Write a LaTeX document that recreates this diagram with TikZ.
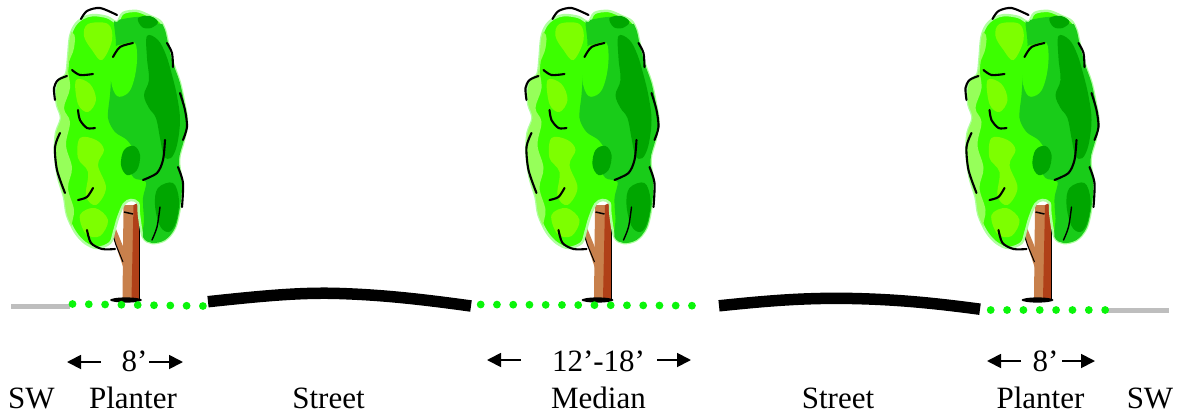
\documentclass[tikz,border=0pt]{standalone}
\usepackage{fontspec}
\setmainfont{Liberation Serif}
\usetikzlibrary{arrows.meta}
\definecolor{bright}{RGB}{60,255,0}
\definecolor{pale}{RGB}{150,255,90}
\definecolor{ygreen}{RGB}{125,255,0}
\definecolor{midg}{RGB}{25,204,25}
\definecolor{darkg}{RGB}{0,166,0}
\definecolor{halo}{RGB}{175,255,160}
\definecolor{dotgreen}{RGB}{10,245,10}
\definecolor{swgray}{RGB}{190,190,190}
\definecolor{trunklight}{RGB}{200,128,76}
\definecolor{trunkdark}{RGB}{176,64,24}
\newcommand{\treeoutline}{plot[smooth cycle, tension=0.55] coordinates {(70,37) (75,25) (83,18) (93,15) (107,17) (117,22) (123,13) (137,11) (150,16) (160,21) (165,30) (168,43) (173,63) (180,83) (185,107) (187,122) (184,140) (179,160) (182,185) (180,207) (175,228) (165,240) (152,243) (143,237) (139,215) (138,203) (131,200) (124,204) (118,218) (114,232) (110,243) (97,248) (85,243) (75,232) (67,215) (64,197) (58,177) (55,153) (56,133) (61,118) (57,105) (56,92) (59,80) (66,74) (68,58)}}
\tikzset{
  lbl/.style={anchor=base, inner sep=0pt, font=\fontsize{31}{36}\selectfont},
  dimarrow/.style={line width=1.8pt, -{Triangle[length=14pt,width=14pt]}},
  street/.style={line width=11.5pt, black},
  walk/.style={line width=5pt, swgray},
  crease/.style={line width=2.1pt, line cap=round, black},
  tree/.pic={
    % trunk
    \fill[trunklight] (123.5,205) -- (134,205) -- (132,299) -- (122.5,299) -- cycle;
    \fill[trunkdark] (133.5,205) -- (139.5,202) -- (139.5,299) -- (131.5,299) -- cycle;
    \draw[black, line width=1.2pt] (139.8,202) -- (139.8,299);
    \fill[trunklight] (123.5,268) -- (116,246) -- (111.5,232) -- (110.5,222) -- (114,224) -- (118,234) -- (124.5,250) -- cycle;
    \draw[black, line width=1pt] (123,262) -- (116,245) -- (111.5,231) -- (110.5,222);
    \fill[black] (126,300) ellipse[x radius=16, y radius=2.6];
    % canopy
    \path[fill=bright, draw=halo, line width=2.5pt] \treeoutline;
    \begin{scope}
      \clip \treeoutline;
      \fill[pale] plot[smooth cycle, tension=0.6] coordinates {(45,30) (72,32) (74,48) (68,66) (70,88) (64,108) (70,122) (66,145) (72,168) (68,188) (74,210) (72,228) (80,252) (45,260)};
      \fill[ygreen] plot[smooth cycle, tension=0.6] coordinates {(80,138) (96,140) (104,150) (98,165) (106,188) (96,205) (86,196) (88,172) (78,158)};
      \fill[ygreen] plot[smooth cycle, tension=0.6] coordinates {(88,24) (108,24) (112,40) (102,60) (92,50) (84,36)};
      \fill[ygreen] plot[smooth cycle, tension=0.6] coordinates {(76,80) (90,84) (96,100) (88,112) (78,104)};
      \fill[ygreen] plot[smooth cycle, tension=0.6] coordinates {(80,215) (95,208) (108,220) (100,236) (86,234)};
      \fill[midg] plot[smooth cycle, tension=0.5] coordinates {(114,22) (116,45) (112,70) (110,95) (108,118) (115,132) (127,140) (134,152) (128,165) (134,178) (146,182) (143,198) (144,218) (147,245) (200,250) (200,30) (160,24) (140,17) (118,20)};
      \fill[bright] plot[smooth cycle, tension=0.6] coordinates {(113,50) (124,44) (135,43) (137,60) (134,80) (128,93) (117,96) (111,80)};
      \fill[darkg] plot[smooth cycle, tension=0.6] coordinates {(147,36) (158,40) (166,55) (172,75) (177,96) (180,120) (177,145) (171,158) (164,156) (160,138) (156,118) (149,108) (144,95) (149,80) (147,58)};
      \fill[darkg] plot[smooth cycle, tension=0.6] coordinates {(124,150) (134,146) (140,155) (137,170) (127,175) (121,165)};
      \fill[darkg] plot[smooth cycle, tension=0.6] coordinates {(158,188) (173,183) (179,200) (176,222) (169,232) (160,226) (155,205)};
      \fill[darkg] plot[smooth cycle, tension=0.6] coordinates {(138,18) (150,16) (158,22) (151,28) (142,27)};
    \end{scope}
    % creases
    \draw[crease] plot[smooth] coordinates {(81,19) (87,11) (100,8) (117,15)};
    \draw[crease] plot[smooth] coordinates {(67,76) (58,80) (54,88) (55,100)};
    \draw[crease] plot[smooth] coordinates {(60,133) (55,147) (57,170) (65,193)};
    \draw[crease] plot[smooth] coordinates {(87,230) (91,243) (102,249) (115,249)};
    \draw[crease] plot[smooth] coordinates {(167,43) (172,53) (173,67)};
    \draw[crease] plot[smooth] coordinates {(180,93) (185,110) (187,127) (183,140)};
    \draw[crease] plot[smooth] coordinates {(178,167) (183,183) (182,207)};
    \draw[crease] plot[smooth] coordinates {(72,70) (80,75) (93,74)};
    \draw[crease] plot[smooth] coordinates {(78,110) (80,120) (87,128) (95,128)};
    \draw[crease] plot[smooth] coordinates {(113,57) (120,47) (133,43)};
    \draw[crease] plot[smooth] coordinates {(165,140) (163,160) (157,173) (143,180)};
    \draw[crease] plot[smooth] coordinates {(78,200) (87,197) (93,188)};
    \draw[crease, line width=1.4pt] plot[smooth] coordinates {(160,207) (157,227) (152,240)};
    \draw[black, line width=1.5pt] (124,212) -- (133,214);
  }
}
\begin{document}
\begin{tikzpicture}[x=1pt,y=-1pt]
\useasboundingbox (0,0) rectangle (1178,413);
% trees
\pic (t1) at (0,0) {tree};
\pic (t2) at (471.5,0) {tree};
\pic (t3) at (911.5,0) {tree};
% sidewalks
\coordinate (swla) at (11,306);
\coordinate (swlb) at (70,306);
\coordinate (swra) at (1107,310);
\coordinate (swrb) at (1169,310);
\draw[walk] (swla) -- (swlb);
\draw[walk] (swra) -- (swrb);
% streets
\coordinate (s1a) at (208,301.7);
\coordinate (s1m) at (333,293.3);
\coordinate (s1b) at (471,306);
\draw[street] (s1a) .. controls (270,295) and (300,292.8) .. (s1m) .. controls (380,294.5) and (420,299) .. (s1b);
\coordinate (s2a) at (719,305.8);
\coordinate (s2m) at (840,298.3);
\coordinate (s2b) at (980,309.2);
\draw[street] (s2a) .. controls (770,300.5) and (800,298.3) .. (s2m) .. controls (890,298.8) and (930,302.5) .. (s2b);
% planter dots
\foreach \i in {0,...,8} \fill[dotgreen] ({72.5+16.3*\i},{304+0.25*\i}) circle[radius=3.9];
\foreach \i in {0,...,13} \fill[dotgreen] ({480.7+16.25*\i},{304.5+0.09*\i}) circle[radius=3.9];
\foreach \i in {0,...,7} \fill[dotgreen] ({990.7+16.35*\i},310) circle[radius=3.9];
% dimension arrows
\coordinate (d1a) at (101,362); \coordinate (d1b) at (67,362);
\coordinate (d1c) at (149,362); \coordinate (d1d) at (183,362);
\coordinate (d2a) at (521,360); \coordinate (d2b) at (487,360);
\coordinate (d2c) at (657,360); \coordinate (d2d) at (691,360);
\coordinate (d3a) at (1021,361); \coordinate (d3b) at (987,361);
\coordinate (d3c) at (1062,361); \coordinate (d3d) at (1095,361);
\draw[dimarrow] (d1a) -- (d1b);
\draw[dimarrow] (d1c) -- (d1d);
\draw[dimarrow] (d2a) -- (d2b);
\draw[dimarrow] (d2c) -- (d2d);
\draw[dimarrow] (d3a) -- (d3b);
\draw[dimarrow] (d3c) -- (d3d);
% labels
\node[lbl] (w1) at (134.5,371) {8’};
\node[lbl] (w2) at (598.5,371) {12’-18’};
\node[lbl] (w3) at (1045.5,371) {8’};
\node[lbl] (sw1) at (31.5,408) {SW};
\node[lbl] (pl1) at (133,408) {Planter};
\node[lbl] (st1) at (328.5,408) {Street};
\node[lbl] (md) at (598.5,408) {Median};
\node[lbl] (st2) at (838,408) {Street};
\node[lbl] (pl2) at (1040.5,408) {Planter};
\node[lbl] (sw2) at (1150,408) {SW};
\end{tikzpicture}
\end{document}
